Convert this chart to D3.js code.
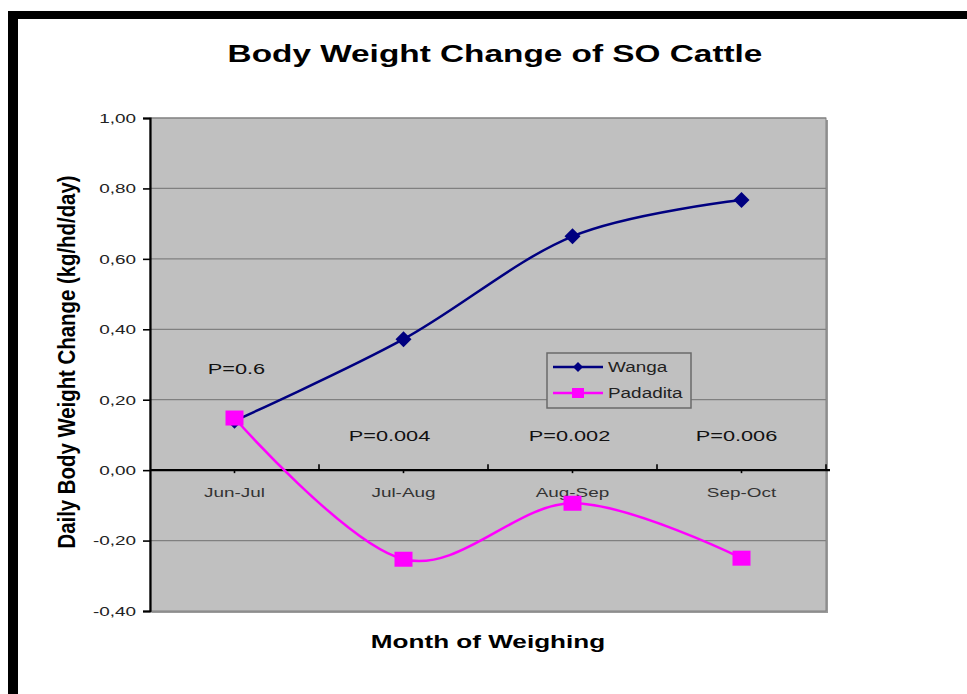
<!DOCTYPE html>
<html>
<head>
<meta charset="utf-8">
<script src="https://cdn.jsdelivr.net/npm/d3@7"></script>
<style>
  body { margin: 0; background: #fff; }
  text { font-family: "Liberation Sans", Arial, sans-serif; }
</style>
</head>
<body>
<script>
var months = ["Jun-Jul", "Jul-Aug", "Aug-Sep", "Sep-Oct"];
var wanga = [0.14, 0.372, 0.664, 0.767];
var padadita = [0.148, -0.253, -0.094, -0.25];
var pValues = ["P=0.6", "P=0.004", "P=0.002", "P=0.006"];
var yTicks = [1.0, 0.8, 0.6, 0.4, 0.2, 0.0, -0.2, -0.4];

var w = 967, h = 694;
var plotLeft = 150, plotRight = 826, plotTop = 118, plotBottom = 611;
var stretchK = 1.45; // text in the picture is wider than Arial

var svg = d3.select("body").append("svg")
    .attr("width", w)
    .attr("height", h);

// frame (black edges top and left)
svg.append("rect").attr("x", 8).attr("y", 11).attr("width", w - 8).attr("height", 8).attr("fill", "#000");
svg.append("rect").attr("x", 8).attr("y", 11).attr("width", 10).attr("height", h - 11).attr("fill", "#000");

var x = d3.scaleBand().domain(months).range([plotLeft, plotRight]);
var y = d3.scaleLinear().domain([-0.4, 1.0]).range([plotBottom, plotTop]);

function widen(sel, k) {
  sel.each(function() {
    var len = this.getComputedTextLength();
    d3.select(this).attr("textLength", len * k).attr("lengthAdjust", "spacingAndGlyphs");
  });
}

// plot area with shadow
svg.append("rect")
    .attr("x", plotLeft + 2).attr("y", plotTop + 2)
    .attr("width", plotRight - plotLeft).attr("height", plotBottom - plotTop)
    .attr("fill", "#9a9a9a");
svg.append("rect")
    .attr("x", plotLeft).attr("y", plotTop)
    .attr("width", plotRight - plotLeft).attr("height", plotBottom - plotTop)
    .attr("fill", "#c0c0c0")
    .attr("stroke", "#808080")
    .attr("stroke-width", 1);

// gridlines
svg.append("g")
  .selectAll("line")
  .data(yTicks.filter(function(d) { return d !== 0 && d !== -0.4; }))
  .enter().append("line")
    .attr("x1", plotLeft).attr("x2", plotRight)
    .attr("y1", function(d) { return y(d); })
    .attr("y2", function(d) { return y(d); })
    .attr("stroke", "#808080")
    .attr("stroke-width", 1.2);

// y axis
var yAxis = svg.append("g")
    .attr("transform", "translate(" + plotLeft + ",0)")
    .call(d3.axisLeft(y).tickValues(yTicks).tickSize(7).tickPadding(7)
      .tickFormat(function(d) { return d3.format(".2f")(d).replace(".", ",").replace("\u2212", "-"); }));
yAxis.select(".domain").attr("stroke", "#000").attr("stroke-width", 2.2);
yAxis.selectAll(".tick line").attr("stroke", "#000").attr("stroke-width", 1.6);
yAxis.selectAll(".tick text")
    .attr("font-size", 13.5)
    .attr("fill", "#222")
    .style("font-family", "Liberation Sans, Arial, sans-serif")
    .call(widen, 1.4);

// x axis at zero
var xAxisG = svg.append("g");
xAxisG.append("line")
    .attr("x1", plotLeft).attr("x2", plotRight + 4)
    .attr("y1", y(0)).attr("y2", y(0))
    .attr("stroke", "#000").attr("stroke-width", 2.2);
var bounds = months.map(function(m) { return x(m) + x.bandwidth(); });
xAxisG.selectAll("line.bt")
  .data(bounds)
  .enter().append("line")
    .attr("class", "bt")
    .attr("x1", function(d) { return d; }).attr("x2", function(d) { return d; })
    .attr("y1", y(0)).attr("y2", y(0) - 6)
    .attr("stroke", "#000").attr("stroke-width", 1.6);
xAxisG.selectAll("line.ct")
  .data(months)
  .enter().append("line")
    .attr("class", "ct")
    .attr("x1", function(d) { return x(d) + x.bandwidth() / 2; })
    .attr("x2", function(d) { return x(d) + x.bandwidth() / 2; })
    .attr("y1", y(0)).attr("y2", y(0) + 3)
    .attr("stroke", "#000").attr("stroke-width", 1.6);
xAxisG.selectAll("text")
  .data(months)
  .enter().append("text")
    .attr("x", function(d) { return x(d) + x.bandwidth() / 2; })
    .attr("y", y(0) + 27)
    .attr("text-anchor", "middle")
    .attr("font-size", 13.5)
    .attr("fill", "#333")
    .text(function(d) { return d; })
    .call(widen, 1.4);

// P annotations
svg.append("g").selectAll("text")
  .data(pValues)
  .enter().append("text")
    .attr("x", function(d, i) { return x(months[i]) + x.bandwidth() / 2 + [2, -14, -3, -5][i]; })
    .attr("y", function(d, i) { return y(i === 0 ? 0.285 : 0.095) + 4; })
    .attr("text-anchor", "middle")
    .attr("font-size", 15)
    .attr("fill", "#111")
    .text(function(d) { return d; })
    .call(widen, stretchK);

// lines
var line = d3.line()
    .x(function(d, i) { return x(months[i]) + x.bandwidth() / 2; })
    .y(function(d) { return y(d); })
    .curve(d3.curveCardinal.tension(0));

function diamond(s) { return "M0," + (-s) + "L" + s + ",0L0," + s + "L" + (-s) + ",0Z"; }

svg.append("path")
    .datum(wanga)
    .attr("d", line)
    .attr("fill", "none")
    .attr("stroke", "#000080")
    .attr("stroke-width", 2.5);
svg.append("g").selectAll("path")
  .data(wanga)
  .enter().append("path")
    .attr("transform", function(d, i) { return "translate(" + (x(months[i]) + x.bandwidth() / 2) + "," + y(d) + ")"; })
    .attr("d", diamond(8))
    .attr("fill", "#000080");

svg.append("path")
    .datum(padadita)
    .attr("d", line)
    .attr("fill", "none")
    .attr("stroke", "#ff00ff")
    .attr("stroke-width", 2.5);
svg.append("g").selectAll("rect")
  .data(padadita)
  .enter().append("rect")
    .attr("x", function(d, i) { return x(months[i]) + x.bandwidth() / 2 - 9; })
    .attr("y", function(d) { return y(d) - 7.5; })
    .attr("width", 18).attr("height", 15)
    .attr("fill", "#ff00ff");

// legend
var lg = svg.append("g").attr("transform", "translate(547,353)");
lg.append("rect")
    .attr("width", 144).attr("height", 55)
    .attr("fill", "#c0c0c0")
    .attr("stroke", "#6a6a6a")
    .attr("stroke-width", 1.5);
var series = [
  { name: "Wanga", color: "#000080", yy: 14 },
  { name: "Padadita", color: "#ff00ff", yy: 40 }
];
series.forEach(function(s, i) {
  lg.append("line")
      .attr("x1", 6).attr("x2", 56)
      .attr("y1", s.yy).attr("y2", s.yy)
      .attr("stroke", s.color).attr("stroke-width", 2.5);
  if (i === 0) {
    lg.append("path").attr("transform", "translate(31," + s.yy + ")").attr("d", diamond(5)).attr("fill", s.color);
  } else {
    lg.append("rect").attr("x", 25).attr("y", s.yy - 5).attr("width", 12).attr("height", 10).attr("fill", s.color);
  }
  lg.append("text")
      .attr("x", 61).attr("y", s.yy + 5)
      .attr("font-size", 14)
      .attr("fill", "#222")
      .text(s.name)
      .call(widen, 1.35);
});

// titles
svg.append("text")
    .attr("x", 495).attr("y", 62)
    .attr("text-anchor", "middle")
    .attr("font-size", 23)
    .attr("font-weight", "bold")
    .text("Body Weight Change of SO Cattle")
    .call(widen, stretchK);

svg.append("text")
    .attr("x", 488).attr("y", 648)
    .attr("text-anchor", "middle")
    .attr("font-size", 18)
    .attr("font-weight", "bold")
    .text("Month of Weighing")
    .call(widen, stretchK);

svg.append("text")
    .attr("transform", "translate(75,362) rotate(-90) scale(1,1.3)")
    .attr("text-anchor", "middle")
    .attr("font-size", 18)
    .attr("font-weight", "bold")
    .attr("textLength", 373)
    .attr("lengthAdjust", "spacingAndGlyphs")
    .text("Daily Body Weight Change (kg/hd/day)");
</script>
</body>
</html>
